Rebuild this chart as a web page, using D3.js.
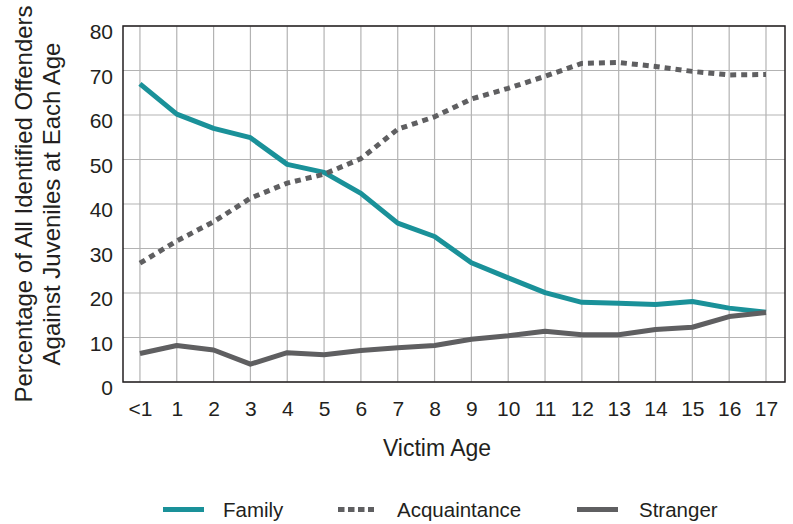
<!DOCTYPE html>
<html>
<head>
<meta charset="utf-8">
<script src="https://cdn.jsdelivr.net/npm/d3@7/dist/d3.min.js"></script>
<style>
  body { margin: 0; background: #fff; }
  text { font-family: "Liberation Sans", Arial, sans-serif; fill: #231f20; }
</style>
</head>
<body>
<div id="chart"></div>
<script>
// Dados
const ages = ['<1', '1', '2', '3', '4', '5', '6', '7', '8', '9', '10', '11', '12', '13', '14', '15', '16', '17'];
const family = [67, 60.2, 57, 54.9, 48.9, 47.1, 42.4, 35.7, 32.7, 26.8, 23.4, 20.1, 17.9, 17.7, 17.4, 18.1, 16.6, 15.7];
const acquaintance = [26.7, 31.7, 36, 41.3, 44.7, 46.7, 50.2, 56.8, 59.6, 63.6, 66, 68.7, 71.6, 71.8, 70.9, 69.8, 69, 69.1];
const stranger = [6.4, 8.2, 7.2, 4.0, 6.6, 6.1, 7.1, 7.7, 8.2, 9.6, 10.4, 11.4, 10.6, 10.6, 11.8, 12.3, 14.7, 15.6];
const yTicks = [0, 10, 20, 30, 40, 50, 60, 70, 80];

const series = [
    { name: 'Family', values: family, color: '#1a9199', dash: null },
    { name: 'Acquaintance', values: acquaintance, color: '#5f5f61', dash: '6,5' },
    { name: 'Stranger', values: stranger, color: '#5f5f61', dash: null }
];

const W = 793, H = 524;
const plot = { left: 123, right: 785, top: 26, bottom: 382 };
const FONT = '"Liberation Sans", Arial, sans-serif';

const svg = d3.select('#chart').append('svg')
    .attr('width', W)
    .attr('height', H);

// Escalas
const x = d3.scaleLinear()
    .domain([-0.46, ages.length - 1 + 0.516])
    .range([plot.left, plot.right]);

const y = d3.scaleLinear()
    .domain([0, 80])
    .range([plot.bottom, plot.top]);

// Grade
const grid = svg.append('g').attr('class', 'grid');
grid.selectAll('.hline')
    .data(yTicks)
    .enter().append('line')
    .attr('x1', plot.left).attr('x2', plot.right)
    .attr('y1', d => y(d)).attr('y2', d => y(d))
    .attr('stroke', '#b3b3b3').attr('stroke-width', 1.2);
grid.selectAll('.vline')
    .data(ages)
    .enter().append('line')
    .attr('x1', (d, i) => x(i)).attr('x2', (d, i) => x(i))
    .attr('y1', plot.top).attr('y2', plot.bottom)
    .attr('stroke', '#b3b3b3').attr('stroke-width', 1.2);

// Linhas
const line = d3.line()
    .x((d, i) => x(i))
    .y(d => y(d));

svg.selectAll('.series')
    .data(series)
    .enter().append('path')
    .attr('class', 'series')
    .attr('d', d => line(d.values))
    .attr('fill', 'none')
    .attr('stroke', d => d.color)
    .attr('stroke-width', 5)
    .attr('stroke-linejoin', 'round')
    .attr('stroke-dasharray', d => d.dash);

// Moldura
svg.append('rect')
    .attr('x', plot.left).attr('y', plot.top)
    .attr('width', plot.right - plot.left)
    .attr('height', plot.bottom - plot.top)
    .attr('fill', 'none')
    .attr('stroke', '#231f20')
    .attr('stroke-width', 1.5);

// Eixo Y
const yAxis = d3.axisLeft(y).tickValues(yTicks).tickSize(0).tickPadding(10);
svg.append('g')
    .attr('transform', `translate(${plot.left},0)`)
    .call(yAxis)
    .call(g => g.select('.domain').remove())
    .selectAll('text')
    .attr('dy', '0.6em')
    .style('font-size', '21px')
    .style('font-family', FONT)
    .attr('fill', '#231f20');

// Eixo X
const xAxis = d3.axisBottom(x)
    .tickValues(d3.range(ages.length))
    .tickFormat(i => ages[i])
    .tickSize(0)
    .tickPadding(19);
svg.append('g')
    .attr('transform', `translate(0,${plot.bottom})`)
    .call(xAxis)
    .call(g => g.select('.domain').remove())
    .selectAll('text')
    .style('font-size', '21px')
    .style('font-family', FONT)
    .attr('fill', '#231f20');

// Títulos dos eixos
svg.append('text')
    .attr('x', 437).attr('y', 456)
    .attr('text-anchor', 'middle')
    .style('font-size', '23px')
    .text('Victim Age');

const yTitle = svg.append('text')
    .attr('transform', 'translate(32,204) rotate(-90)')
    .attr('text-anchor', 'middle')
    .style('font-size', '24px');
yTitle.append('tspan').attr('x', 0).attr('dy', 0).text('Percentage of All Identified Offenders');
yTitle.append('tspan').attr('x', 0).attr('dy', 28).text('Against Juveniles at Each Age');

// Legenda
const legendX = [163, 338, 577];
const legendTextX = [60, 59, 62];
const legend = svg.selectAll('.legend-item')
    .data(series)
    .enter().append('g')
    .attr('class', 'legend-item')
    .attr('transform', (d, i) => `translate(${legendX[i]},509.5)`);

legend.append('line')
    .attr('x1', 0).attr('x2', d => d.dash ? 36 : 41)
    .attr('y1', 0).attr('y2', 0)
    .attr('stroke', d => d.color)
    .attr('stroke-width', 5)
    .attr('stroke-dasharray', d => d.dash ? '6.5,3.5' : null);

legend.append('text')
    .attr('x', (d, i) => legendTextX[i])
    .attr('y', 7.5)
    .style('font-size', '20.5px')
    .text(d => d.name);
</script>
</body>
</html>
